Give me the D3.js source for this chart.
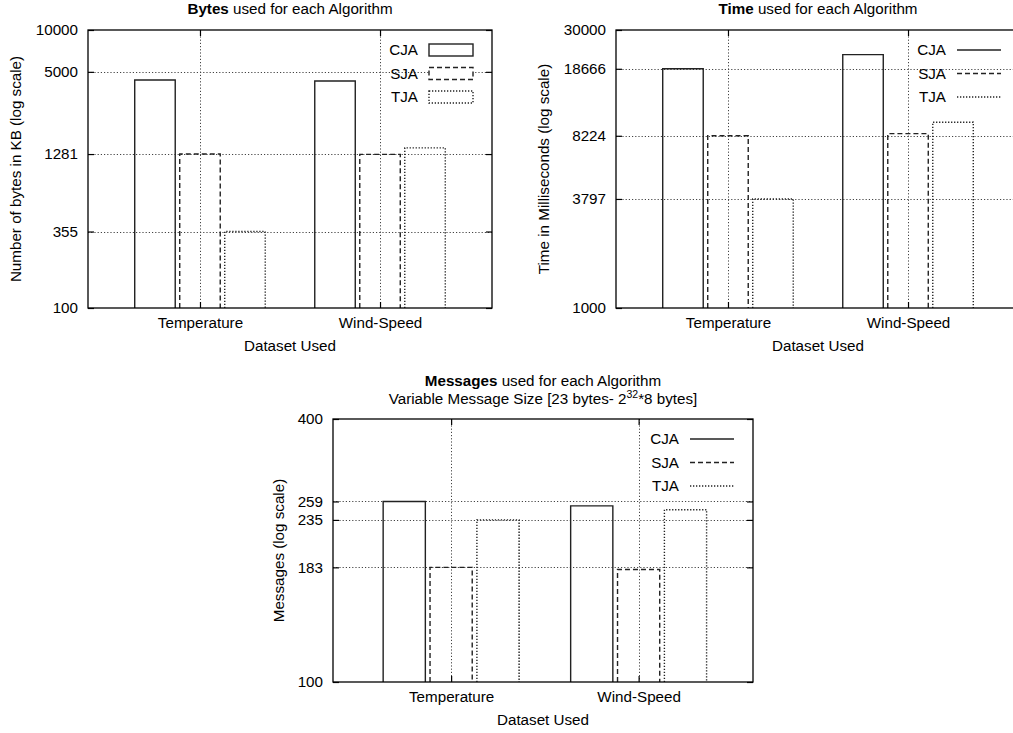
<!DOCTYPE html>
<html>
<head>
<meta charset="utf-8">
<script src="https://cdn.jsdelivr.net/npm/d3@7"></script>
<style>
  html, body { margin: 0; padding: 0; background: #fff; }
  svg { display: block; font-family: "Liberation Sans", Arial, Helvetica, sans-serif; }
</style>
</head>
<body>
<svg id="chart" width="1013" height="733"></svg>
<script>
// ---- data ----
const categories = ["Temperature", "Wind-Speed"];
const seriesNames = ["CJA", "SJA", "TJA"];

const bytesCJA = [4370, 4300];
const bytesSJA = [1281, 1275];
const bytesTJA = [355, 1420];
const bytesTicks = [100, 355, 1281, 5000, 10000];

const timeCJA = [18666, 22200];
const timeSJA = [8224, 8440];
const timeTJA = [3797, 9700];
const timeTicks = [1000, 3797, 8224, 18666, 30000];

const msgCJA = [259, 253];
const msgSJA = [183, 181];
const msgTJA = [235, 248];
const msgTicks = [100, 183, 235, 259, 400];

// ---- styles ----
const dashes = { CJA: null, SJA: "5,3", TJA: "1.3,1.7" };
const FS = 15.2;

const svg = d3.select("#chart");
svg.append("rect").attr("width", 1013).attr("height", 733).attr("fill", "#fff");

function drawChart(cfg) {
  const { left, top, width, height } = cfg;
  const g = svg.append("g").attr("transform", `translate(${left},${top})`);
  const x = d3.scaleLinear().domain(cfg.xDomain).range([0, width]);
  const y = d3.scaleLog().domain([cfg.ticks[0], cfg.ticks[cfg.ticks.length - 1]]).range([height, 0]);

  // grid
  const grid = g.append("g").attr("stroke", "#444").attr("stroke-width", 1).attr("stroke-dasharray", "1.2,2");
  grid.selectAll("line.gy").data(cfg.ticks.slice(1, -1)).join("line")
    .attr("x1", 0).attr("x2", width)
    .attr("y1", d => Math.round(y(d)) + 0.5).attr("y2", d => Math.round(y(d)) + 0.5);
  grid.selectAll("line.gx").data(categories).join("line")
    .attr("x1", (d, i) => Math.round(x(i)) + 0.5).attr("x2", (d, i) => Math.round(x(i)) + 0.5)
    .attr("y1", 0).attr("y2", height);

  // bars
  const bw = 0.225, off = 0.25;
  cfg.series.forEach((vals, si) => {
    const name = seriesNames[si];
    g.append("g").selectAll("path").data(vals).join("path")
      .attr("d", (v, ci) => {
        const x0 = x(ci + (si - 1) * off - bw / 2), x1 = x(ci + (si - 1) * off + bw / 2);
        const yt = y(v), yb = y(cfg.ticks[0]);
        return `M${x0},${yb}V${yt}H${x1}V${yb}`;
      })
      .attr("fill", "none").attr("stroke", "#222").attr("stroke-width", 1.4)
      .attr("stroke-dasharray", dashes[name]);
  });

  // axes (ticks inward, mirrored)
  const ax = d3.axisLeft(y).tickValues(cfg.ticks).tickFormat(d3.format("d")).tickSize(-6).tickPadding(10);
  const gl = g.append("g").call(ax);
  const ar = d3.axisRight(y).tickValues(cfg.ticks).tickFormat("").tickSize(-6);
  const gr = g.append("g").attr("transform", `translate(${width},0)`).call(ar);
  const xb = d3.axisBottom(x).tickValues([0, 1]).tickFormat((d) => categories[d]).tickSize(-6).tickPadding(9.5);
  const gb = g.append("g").attr("transform", `translate(0,${height})`).call(xb);
  const xt = d3.axisTop(x).tickValues([0, 1]).tickFormat("").tickSize(-6);
  const gt = g.append("g").call(xt);
  [gl, gr, gb, gt].forEach(a => {
    a.select(".domain").remove();
    a.selectAll(".tick line").attr("stroke", "#000").attr("stroke-width", 1.2);
    a.selectAll("text").attr("font-size", FS).attr("fill", "#000")
      .attr("font-family", "'Liberation Sans', Arial, sans-serif");
  });

  // frame
  g.append("rect").attr("x", 0).attr("y", 0).attr("width", width).attr("height", height)
    .attr("fill", "none").attr("stroke", "#000").attr("stroke-width", 1.3);

  // titles
  cfg.titleLines.forEach((ln, i) => {
    const t = g.append("text").attr("x", width / 2).attr("y", ln.y).attr("text-anchor", "middle")
      .attr("font-size", FS).attr("fill", "#000");
    ln.parts.forEach(p => {
      const ts = t.append("tspan").text(p.text);
      if (p.bold) ts.attr("font-weight", "bold");
      if (p.sup) ts.attr("font-size", 10.5).attr("dy", -6);
      if (p.after) ts.attr("dy", 6);
    });
  });

  // axis labels
  g.append("text").attr("x", width / 2).attr("y", height + 43).attr("text-anchor", "middle")
    .attr("font-size", FS).text("Dataset Used");
  g.append("text").attr("transform", `translate(${cfg.yLabelX},${height / 2}) rotate(-90)`)
    .attr("text-anchor", "middle").attr("font-size", FS).text(cfg.yLabel);

  // legend
  const lg = g.append("g").attr("transform", `translate(${width},0)`);
  seriesNames.forEach((name, i) => {
    const cy = 20 + i * 23.5;
    lg.append("text").attr("x", -74).attr("y", cy + 5).attr("text-anchor", "end")
      .attr("font-size", FS).text(name);
    if (cfg.legendBox) {
      lg.append("rect").attr("x", -63).attr("y", cy - 6).attr("width", 44).attr("height", 12)
        .attr("fill", "#fff").attr("stroke", "#222").attr("stroke-width", 1.4)
        .attr("stroke-dasharray", dashes[name]);
    } else {
      lg.append("line").attr("x1", -63).attr("x2", -19).attr("y1", cy).attr("y2", cy)
        .attr("stroke", "#222").attr("stroke-width", 1.4).attr("stroke-dasharray", dashes[name]);
    }
  });
}

drawChart({
  left: 88, top: 30, width: 404, height: 278, xDomain: [-0.622, 1.622],
  ticks: bytesTicks, series: [bytesCJA, bytesSJA, bytesTJA],
  titleLines: [{ y: -16, parts: [{ text: "Bytes", bold: true }, { text: " used for each Algorithm" }] }],
  yLabel: "Number of bytes in KB (log scale)", yLabelX: -67, legendBox: true
});

drawChart({
  left: 616, top: 30, width: 404, height: 278, xDomain: [-0.622, 1.622],
  ticks: timeTicks, series: [timeCJA, timeSJA, timeTJA],
  titleLines: [{ y: -16, parts: [{ text: "Time", bold: true }, { text: " used for each Algorithm" }] }],
  yLabel: "Time in Milliseconds (log scale)", yLabelX: -67, legendBox: false
});

drawChart({
  left: 333, top: 419, width: 420, height: 263, xDomain: [-0.63, 1.61],
  ticks: msgTicks, series: [msgCJA, msgSJA, msgTJA],
  titleLines: [
    { y: -33, parts: [{ text: "Messages", bold: true }, { text: " used for each Algorithm" }] },
    { y: -15, parts: [{ text: "Variable Message Size [23 bytes- 2" }, { text: "32", sup: true }, { text: "*8 bytes]", after: true }] }
  ],
  yLabel: "Messages (log scale)", yLabelX: -49, legendBox: false
});
</script>
</body>
</html>
